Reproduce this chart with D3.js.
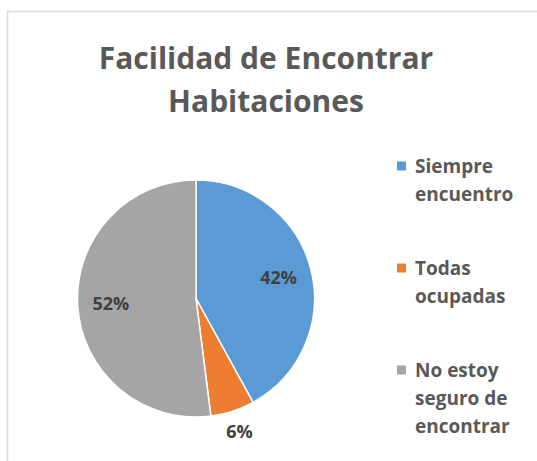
<!DOCTYPE html>
<html>
<head>
<meta charset="utf-8">
<script src="https://cdn.jsdelivr.net/npm/d3@7"></script>
<style>
  body { margin: 0; background: #fff; }
  svg { display: block; font-family: "Open Sans", sans-serif; }
</style>
</head>
<body>
<div id="chart"></div>
<script>
var width = 537, height = 461;

var categories = ["Siempre encuentro", "Todas ocupadas", "No estoy seguro de encontrar"];
var values = [42, 6, 52];
var colors = ["#5b9bd5", "#ed7d31", "#a5a5a5"];
var legendLines = [["Siempre", "encuentro"], ["Todas", "ocupadas"], ["No estoy", "seguro de", "encontrar"]];
var titleLines = ["Facilidad de Encontrar", "Habitaciones"];

var data = categories.map(function(c, i) {
    return {name: c, value: values[i], color: colors[i], lines: legendLines[i]};
});

var svg = d3.select("#chart").append("svg")
    .attr("width", width)
    .attr("height", height);

// chart area border (only top and left show in the window)
svg.append("rect")
    .attr("x", 7.5).attr("y", 11.5)
    .attr("width", 600).attr("height", 600)
    .attr("fill", "none")
    .attr("stroke", "#d9d9d9")
    .attr("stroke-width", 1.5);

// title
svg.append("g").selectAll("text")
    .data(titleLines).enter()
    .append("text")
    .attr("x", 266)
    .attr("y", function(d, i) { return 69 + i * 43; })
    .attr("text-anchor", "middle")
    .attr("font-size", 30)
    .attr("font-weight", 700)
    .attr("fill", "#595959")
    .text(function(d) { return d; });

// pie
var cx = 196, cy = 298.5, r = 118.5;

var pie = d3.pie()
    .sort(null)
    .value(function(d) { return d.value; });

var arc = d3.arc().innerRadius(0).outerRadius(r);
var labelArc = d3.arc().innerRadius(r * 0.72).outerRadius(r * 0.72);

var g = svg.append("g").attr("transform", "translate(" + cx + "," + cy + ")");
var arcs = pie(data);

g.selectAll("path")
    .data(arcs).enter()
    .append("path")
    .attr("d", arc)
    .attr("fill", function(d) { return d.data.color; })
    .attr("stroke", "#fff")
    .attr("stroke-width", 1.5);

// data labels
g.selectAll(".lbl")
    .data(arcs).enter()
    .append("text")
    .attr("class", "lbl")
    .attr("transform", function(d) {
        var p;
        if (d.data.value < 10) {
            // small slice: label sits outside
            var a = (d.startAngle + d.endAngle) / 2;
            p = [Math.sin(a) * (r + 22), -Math.cos(a) * (r + 22)];
        } else {
            p = labelArc.centroid(d);
        }
        return "translate(" + p + ")";
    })
    .attr("dy", "0.35em")
    .attr("text-anchor", "middle")
    .attr("font-size", 18)
    .attr("font-weight", 700)
    .attr("fill", "#404040")
    .text(function(d) { return d.data.value + "%"; });

// legend
var legendY = [166, 268, 370];
var legend = svg.append("g").selectAll("g")
    .data(data).enter()
    .append("g")
    .attr("transform", function(d, i) { return "translate(397," + legendY[i] + ")"; });

legend.append("rect")
    .attr("x", 0).attr("y", -4.5)
    .attr("width", 9).attr("height", 9)
    .attr("fill", function(d) { return d.color; });

legend.append("text")
    .attr("font-size", 19)
    .attr("font-weight", 700)
    .attr("fill", "#595959")
    .selectAll("tspan")
    .data(function(d) { return d.lines; }).enter()
    .append("tspan")
    .attr("x", 18)
    .attr("y", function(d, i) { return 7 + i * 28; })
    .text(function(d) { return d; });
</script>
</body>
</html>
